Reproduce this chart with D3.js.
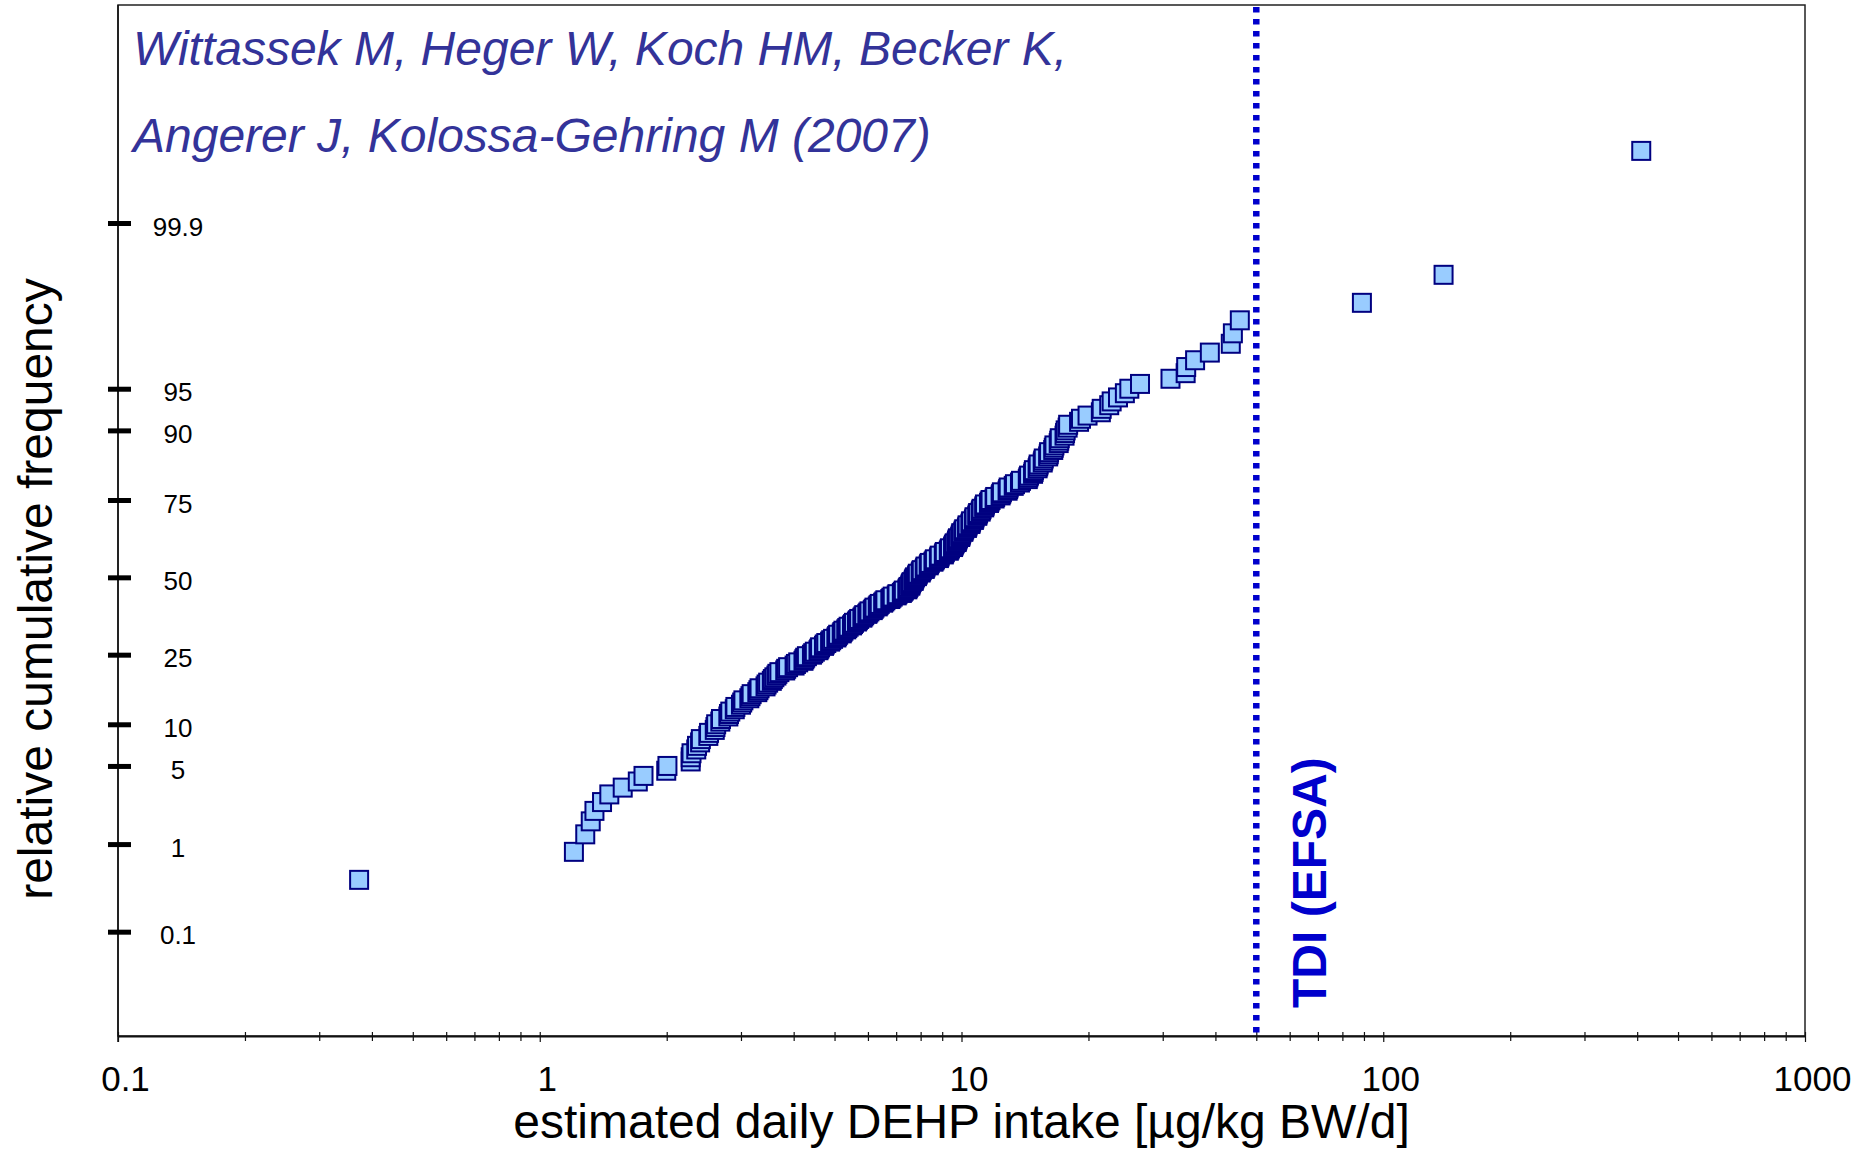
<!DOCTYPE html>
<html>
<head>
<meta charset="utf-8">
<script src="https://cdn.jsdelivr.net/npm/d3@7/dist/d3.min.js"></script>
<style>
  html, body { margin: 0; padding: 0; background: #fff; }
  svg { display: block; font-family: "Liberation Sans", Arial, sans-serif; }
</style>
</head>
<body>
<svg id="chart" width="1854" height="1153"></svg>
<script>
// ---------------- data ----------------
// estimated daily DEHP intake [µg/kg BW/d], sorted sample (n = 240)
const intake = [
  0.373, 1.205, 1.282, 1.321, 1.348, 1.405, 1.462, 1.573, 1.708, 1.762,
  1.995, 2.008, 2.28, 2.28, 2.29, 2.35, 2.36, 2.40, 2.41, 2.51,
  2.52, 2.60, 2.61, 2.62, 2.68, 2.69, 2.80, 2.81, 2.83, 2.90,
  2.91, 3.00, 3.02, 3.04, 3.14, 3.16, 3.18, 3.28, 3.30, 3.32,
  3.43, 3.45, 3.48, 3.55, 3.57, 3.60, 3.64, 3.66, 3.70, 3.82,
  3.84, 3.88, 4.02, 4.05, 4.10, 4.22, 4.24, 4.26, 4.30, 4.42,
  4.45, 4.49, 4.58, 4.60, 4.62, 4.72, 4.74, 4.78, 4.88, 4.91,
  4.96, 5.05, 5.07, 5.10, 5.20, 5.22, 5.25, 5.33, 5.36, 5.40,
  5.50, 5.53, 5.56, 5.65, 5.68, 5.72, 5.82, 5.85, 5.88, 5.98,
  6.01, 6.05, 6.16, 6.19, 6.22, 6.33, 6.36, 6.40, 6.52, 6.56,
  6.60, 6.78, 6.82, 6.87, 7.02, 7.05, 7.22, 7.26, 7.30, 7.44,
  7.46, 7.49, 7.56, 7.57, 7.59, 7.62, 7.70, 7.71, 7.73, 7.76,
  7.84, 7.86, 7.88, 8.00, 8.02, 8.05, 8.18, 8.20, 8.22, 8.36,
  8.38, 8.41, 8.58, 8.62, 8.65, 8.84, 8.86, 8.88, 9.08, 9.10,
  9.13, 9.33, 9.36, 9.39, 9.55, 9.57, 9.60, 9.64, 9.74, 9.76,
  9.78, 9.81, 9.93, 9.95, 9.97, 9.99, 10.10, 10.12, 10.15, 10.30,
  10.32, 10.34, 10.50, 10.52, 10.54, 10.70, 10.72, 10.74, 10.90, 10.92,
  10.95, 11.10, 11.13, 11.16, 11.32, 11.34, 11.37, 11.62, 11.66, 11.72,
  11.98, 12.02, 12.38, 12.42, 12.47, 12.86, 12.90, 12.94, 13.30, 13.39,
  13.76, 13.84, 14.36, 14.40, 14.46, 14.78, 14.82, 14.85, 15.15, 15.20,
  15.24, 15.58, 15.62, 15.67, 16.05, 16.10, 16.13, 16.50, 16.55, 16.61,
  17.00, 17.05, 17.10, 17.55, 17.60, 17.66, 17.85, 17.90, 19.0, 19.2,
  19.9, 21.4, 21.5, 22.4, 22.7, 23.5, 24.4, 25.0, 26.5, 31.3,
  34.0, 34.1, 35.8, 38.8, 43.5, 44.0, 45.7, 89, 139, 409
];
// relative cumulative frequency [%] = rank / n; the 100 % point is shown at 99.99 %
const topPlotted = 99.99;
const freqTicks = [0.1, 1, 5, 10, 25, 50, 75, 90, 95, 99.9];
const freqTickLabels = ["0.1", "1", "5", "10", "25", "50", "75", "90", "95", "99.9"];
const xMajorTicks = [0.1, 1, 10, 100, 1000];
const xTickLabels = ["0.1", "1", "10", "100", "1000"];
const tdiValue = 50;
const tdiLabel = "TDI (EFSA)";
const authorLines = ["Wittassek M, Heger W, Koch HM, Becker K,", "Angerer J, Kolossa-Gehring M (2007)"];
const xTitle = "estimated daily DEHP intake [µg/kg BW/d]";
const yTitle = "relative cumulative frequency";

// ---------------- helpers ----------------
// inverse standard-normal CDF (probability-paper axis transform)
function probit(p) {
  const a = [-3.969683028665376e+01, 2.209460984245205e+02, -2.759285104469687e+02, 1.383577518672690e+02, -3.066479806614716e+01, 2.506628277459239e+00];
  const b = [-5.447609879822406e+01, 1.615858368580409e+02, -1.556989798598866e+02, 6.680131188771972e+01, -1.328068155288572e+01];
  const c = [-7.784894002430293e-03, -3.223964580411365e-01, -2.400758277161838e+00, -2.549732539343734e+00, 4.374664141464968e+00, 2.938163982698783e+00];
  const d = [7.784695709041462e-03, 3.224671290700398e-01, 2.445134137142996e+00, 3.754408661907416e+00];
  const pl = 0.02425, ph = 1 - pl;
  let q, r;
  if (p < pl) {
    q = Math.sqrt(-2 * Math.log(p));
    return (((((c[0]*q+c[1])*q+c[2])*q+c[3])*q+c[4])*q+c[5]) / ((((d[0]*q+d[1])*q+d[2])*q+d[3])*q+1);
  }
  if (p <= ph) {
    q = p - 0.5; r = q * q;
    return (((((a[0]*r+a[1])*r+a[2])*r+a[3])*r+a[4])*r+a[5])*q / (((((b[0]*r+b[1])*r+b[2])*r+b[3])*r+b[4])*r+1);
  }
  q = Math.sqrt(-2 * Math.log(1 - p));
  return -(((((c[0]*q+c[1])*q+c[2])*q+c[3])*q+c[4])*q+c[5]) / ((((d[0]*q+d[1])*q+d[2])*q+d[3])*q+1);
}

const n = intake.length;
const points = intake.map((v, i) => ({
  x: v,
  f: (i + 1 === n) ? topPlotted : (i + 1) / n * 100
}));

// ---------------- layout ----------------
const L = 118, R = 1805, T = 5, B = 1036;
const svg = d3.select("#chart");

const x = d3.scaleLog().domain([0.1, 1000]).range([L, R]);
const yz = d3.scaleLinear().domain([-4, 5]).range([B, T - 1]);
const y = f => yz(probit(f / 100));

// frame
svg.append("rect")
  .attr("x", L).attr("y", T).attr("width", R - L).attr("height", B - T)
  .attr("fill", "none").attr("stroke", "#222").attr("stroke-width", 1.5);

// x axis
const minorTicks = [];
for (let e = -1; e < 3; e++) for (let k = 2; k <= 9; k++) minorTicks.push(k * Math.pow(10, e));

const gxMinor = svg.append("g").attr("transform", `translate(0,${B})`)
  .call(d3.axisBottom(x).tickValues(minorTicks).tickSize(5).tickSizeOuter(0).tickFormat(""));
gxMinor.select(".domain").remove();
gxMinor.selectAll(".tick line").attr("y1", -4).attr("stroke", "#111").attr("stroke-width", 1.2);

const gx = svg.append("g").attr("transform", `translate(0,${B})`)
  .call(d3.axisBottom(x).tickValues(xMajorTicks).tickSize(6).tickSizeOuter(0)
    .tickFormat((d, i) => xTickLabels[i]));
gx.select(".domain").attr("stroke", "#111").attr("stroke-width", 2);
gx.selectAll(".tick line").attr("y1", -4).attr("stroke", "#111").attr("stroke-width", 1.2);
gx.selectAll(".tick text")
  .attr("y", 55).attr("dy", 0).attr("x", 7)
  .attr("font-size", 35).attr("font-family", "'Liberation Sans', Arial, sans-serif")
  .attr("fill", "#000");

// y axis (probability scale)
const gy = svg.append("g").attr("transform", `translate(${L},0)`)
  .call(d3.axisLeft(yz).tickValues(freqTicks.map(f => probit(f / 100)))
    .tickSize(10).tickSizeOuter(0).tickFormat((d, i) => freqTickLabels[i]));
gy.select(".domain").attr("stroke", "#111").attr("stroke-width", 1.5)
  .attr("d", `M0,${T}V${B + 6}`);
gy.selectAll(".tick line").attr("x1", 13).attr("x2", -10)
  .attr("stroke", "#000").attr("stroke-width", 5);
gy.selectAll(".tick text")
  .attr("x", 60).attr("dy", "0.47em").attr("text-anchor", "middle")
  .attr("font-size", 26).attr("font-family", "'Liberation Sans', Arial, sans-serif")
  .attr("fill", "#000");

// TDI line
svg.append("line")
  .attr("x1", x(tdiValue)).attr("x2", x(tdiValue))
  .attr("y1", T + 2).attr("y2", B - 1)
  .attr("stroke", "#0000cc").attr("stroke-width", 6.5)
  .attr("stroke-dasharray", "5.5,6.5");

svg.append("text")
  .attr("transform", `translate(${x(tdiValue) + 70},1008) rotate(-90)`)
  .attr("font-size", 48).attr("font-weight", "bold").attr("fill", "#0000cc")
  .text(tdiLabel);

// data squares
const s = 18;
svg.append("g").selectAll("rect").data(points).join("rect")
  .attr("x", d => x(d.x) - s / 2)
  .attr("y", d => y(d.f) - s / 2)
  .attr("width", s).attr("height", s)
  .attr("fill", "#99ccff").attr("stroke", "#000080").attr("stroke-width", 2);

// author text
svg.append("g").selectAll("text").data(authorLines).join("text")
  .attr("x", 133).attr("y", (d, i) => 65 + i * 87)
  .attr("font-size", 48).attr("font-style", "italic").attr("fill", "#333399")
  .text(d => d);

// axis titles
svg.append("text")
  .attr("x", (L + R) / 2).attr("y", 1138).attr("text-anchor", "middle")
  .attr("font-size", 48).attr("fill", "#000").text(xTitle);

svg.append("text")
  .attr("transform", `translate(52,589) rotate(-90)`)
  .attr("text-anchor", "middle")
  .attr("font-size", 48).attr("fill", "#000").text(yTitle);
</script>
</body>
</html>
